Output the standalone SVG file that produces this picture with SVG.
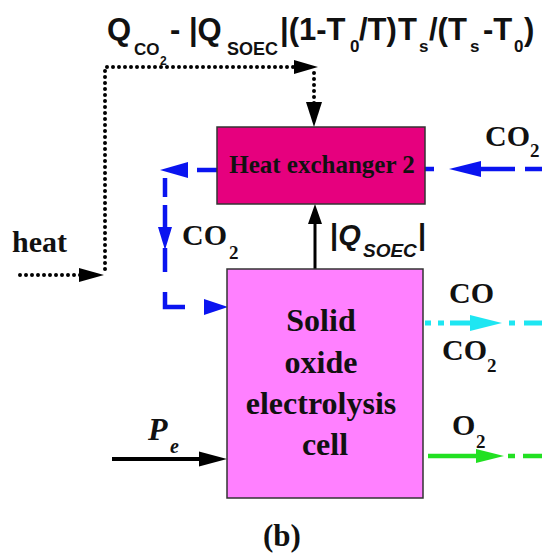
<svg xmlns="http://www.w3.org/2000/svg" width="542" height="553" viewBox="0 0 542 553">
<style>
.serif{font-family:"Liberation Serif","Times New Roman",serif;font-weight:bold;fill:#111}
.sans{font-family:"Liberation Sans",Arial,sans-serif;font-weight:bold;fill:#111}
.box{stroke:#333;stroke-width:1.5}
.dot{fill:none;stroke:#000;stroke-width:4;stroke-linecap:round;stroke-dasharray:0,6}
.blue{fill:none;stroke:#0a14f0;stroke-width:4.5}
.cyan{fill:none;stroke:#1ee6f2;stroke-width:5}
.green{fill:none;stroke:#22e022;stroke-width:4.5}
</style>
<rect width="542" height="553" fill="#fff"/>

<g id="connectors">
  <!-- dotted heat lines -->
  <path class="dot" d="M20 275 H84"/>
  <polygon points="104,275 79,268 79,282" fill="#000"/>
  <path class="dot" d="M105 269 V67 H297"/>
  <polygon points="318,67 294,60 294,74" fill="#000"/>
  <path class="dot" d="M314 73 V104"/>
  <polygon points="314,127 306,102 322,102" fill="#000"/>

  <!-- |Q_SOEC| arrow -->
  <line x1="315" y1="269" x2="315" y2="220" stroke="#000" stroke-width="3"/>
  <polygon points="315,204 308,224 322,224" fill="#000"/>

  <!-- Pe arrow -->
  <line x1="112" y1="459" x2="202" y2="459" stroke="#000" stroke-width="4"/>
  <polygon points="227,459 199,451.5 199,466.5" fill="#000"/>

  <!-- blue CO2 recirculation loop -->
  <path class="blue" d="M197 170 H217"/>
  <polygon points="160,170 188,162 188,178" fill="#0a14f0"/>
  <path class="blue" d="M165 178 V197 M165 205 V230 M165 248 V272 M165 292 V307 H185"/>
  <polygon points="165,250 158,227 172,227" fill="#0a14f0"/>
  <polygon points="228,307 204,299 204,315" fill="#0a14f0"/>

  <!-- blue CO2 inlet -->
  <path class="blue" d="M425 169 H434 M478 169 H515 M525 169 H542"/>
  <polygon points="449,169 481,161 481,177" fill="#0a14f0"/>

  <!-- cyan CO/CO2 outlet -->
  <path class="cyan" d="M425 323 H431 M438 323 H444 M450 323 H472 M509 323 H515 M524 323 H542"/>
  <polygon points="502,323 470,315 470,331" fill="#1ee6f2"/>

  <!-- green O2 outlet -->
  <path class="green" d="M428 456 H479 M508 456 H515 M523 456 H542"/>
  <polygon points="504,456 476,449 476,463" fill="#22e022"/>
</g>

<g id="hx2">
  <rect class="box" x="217" y="127" width="208" height="77" fill="#e6007e"/>
  <text class="serif" x="322" y="173" font-size="25" text-anchor="middle">Heat exchanger 2</text>
</g>

<g id="soec">
  <rect class="box" x="227" y="269" width="196" height="229" fill="#ff80ff"/>
  <text class="serif" font-size="32" text-anchor="middle">
    <tspan x="325" y="331">Solid</tspan>
    <tspan x="325" y="373">oxide</tspan>
    <tspan x="325" y="414">electrolysis</tspan>
    <tspan x="325" y="455">cell</tspan>
  </text>
</g>

<g id="labels">
  <!-- top formula -->
  <g class="sans">
    <text x="107" y="40" font-size="31">Q</text>
    <text x="134" y="55" font-size="17">CO</text>
    <text x="160" y="65" font-size="12">2</text>
    <text x="170" y="40" font-size="31">- |Q</text>
    <text x="227" y="55" font-size="18">SOEC</text>
    <text x="280" y="40" font-size="31">|(1-T</text>
    <text x="350" y="52" font-size="17">0</text>
    <text x="359" y="40" font-size="31">/T)</text>
    <text x="398" y="40" font-size="31">T</text>
    <text x="419" y="52" font-size="17">s</text>
    <text x="429" y="40" font-size="31">/(T</text>
    <text x="470" y="52" font-size="17">s</text>
    <text x="483" y="40" font-size="31">-T</text>
    <text x="514" y="52" font-size="17">0</text>
    <text x="524" y="40" font-size="31">)</text>
  </g>

  <text class="serif" x="12" y="252" font-size="30">heat</text>

  <text class="serif" x="182" y="245" font-size="30">CO</text>
  <text class="serif" x="229" y="259" font-size="19">2</text>

  <text class="serif" x="485" y="146" font-size="30">CO</text>
  <text class="serif" x="530" y="157" font-size="19">2</text>

  <g class="sans">
    <text x="330" y="245" font-size="29">|<tspan font-style="italic">Q</tspan></text>
    <text x="363" y="257" font-size="19" font-style="italic">SOEC</text>
    <text x="418" y="245" font-size="29">|</text>
  </g>

  <text class="serif" x="449" y="303" font-size="30">CO</text>
  <text class="serif" x="442" y="360" font-size="30">CO</text>
  <text class="serif" x="487" y="372" font-size="19">2</text>

  <text class="serif" x="452" y="435" font-size="30">O</text>
  <text class="serif" x="476" y="448" font-size="19">2</text>

  <text class="serif" x="148" y="440" font-size="32" font-style="italic">P</text>
  <text class="serif" x="170" y="453" font-size="20" font-style="italic">e</text>

  <text class="serif" x="263" y="546" font-size="31">(b)</text>
</g>
</svg>
